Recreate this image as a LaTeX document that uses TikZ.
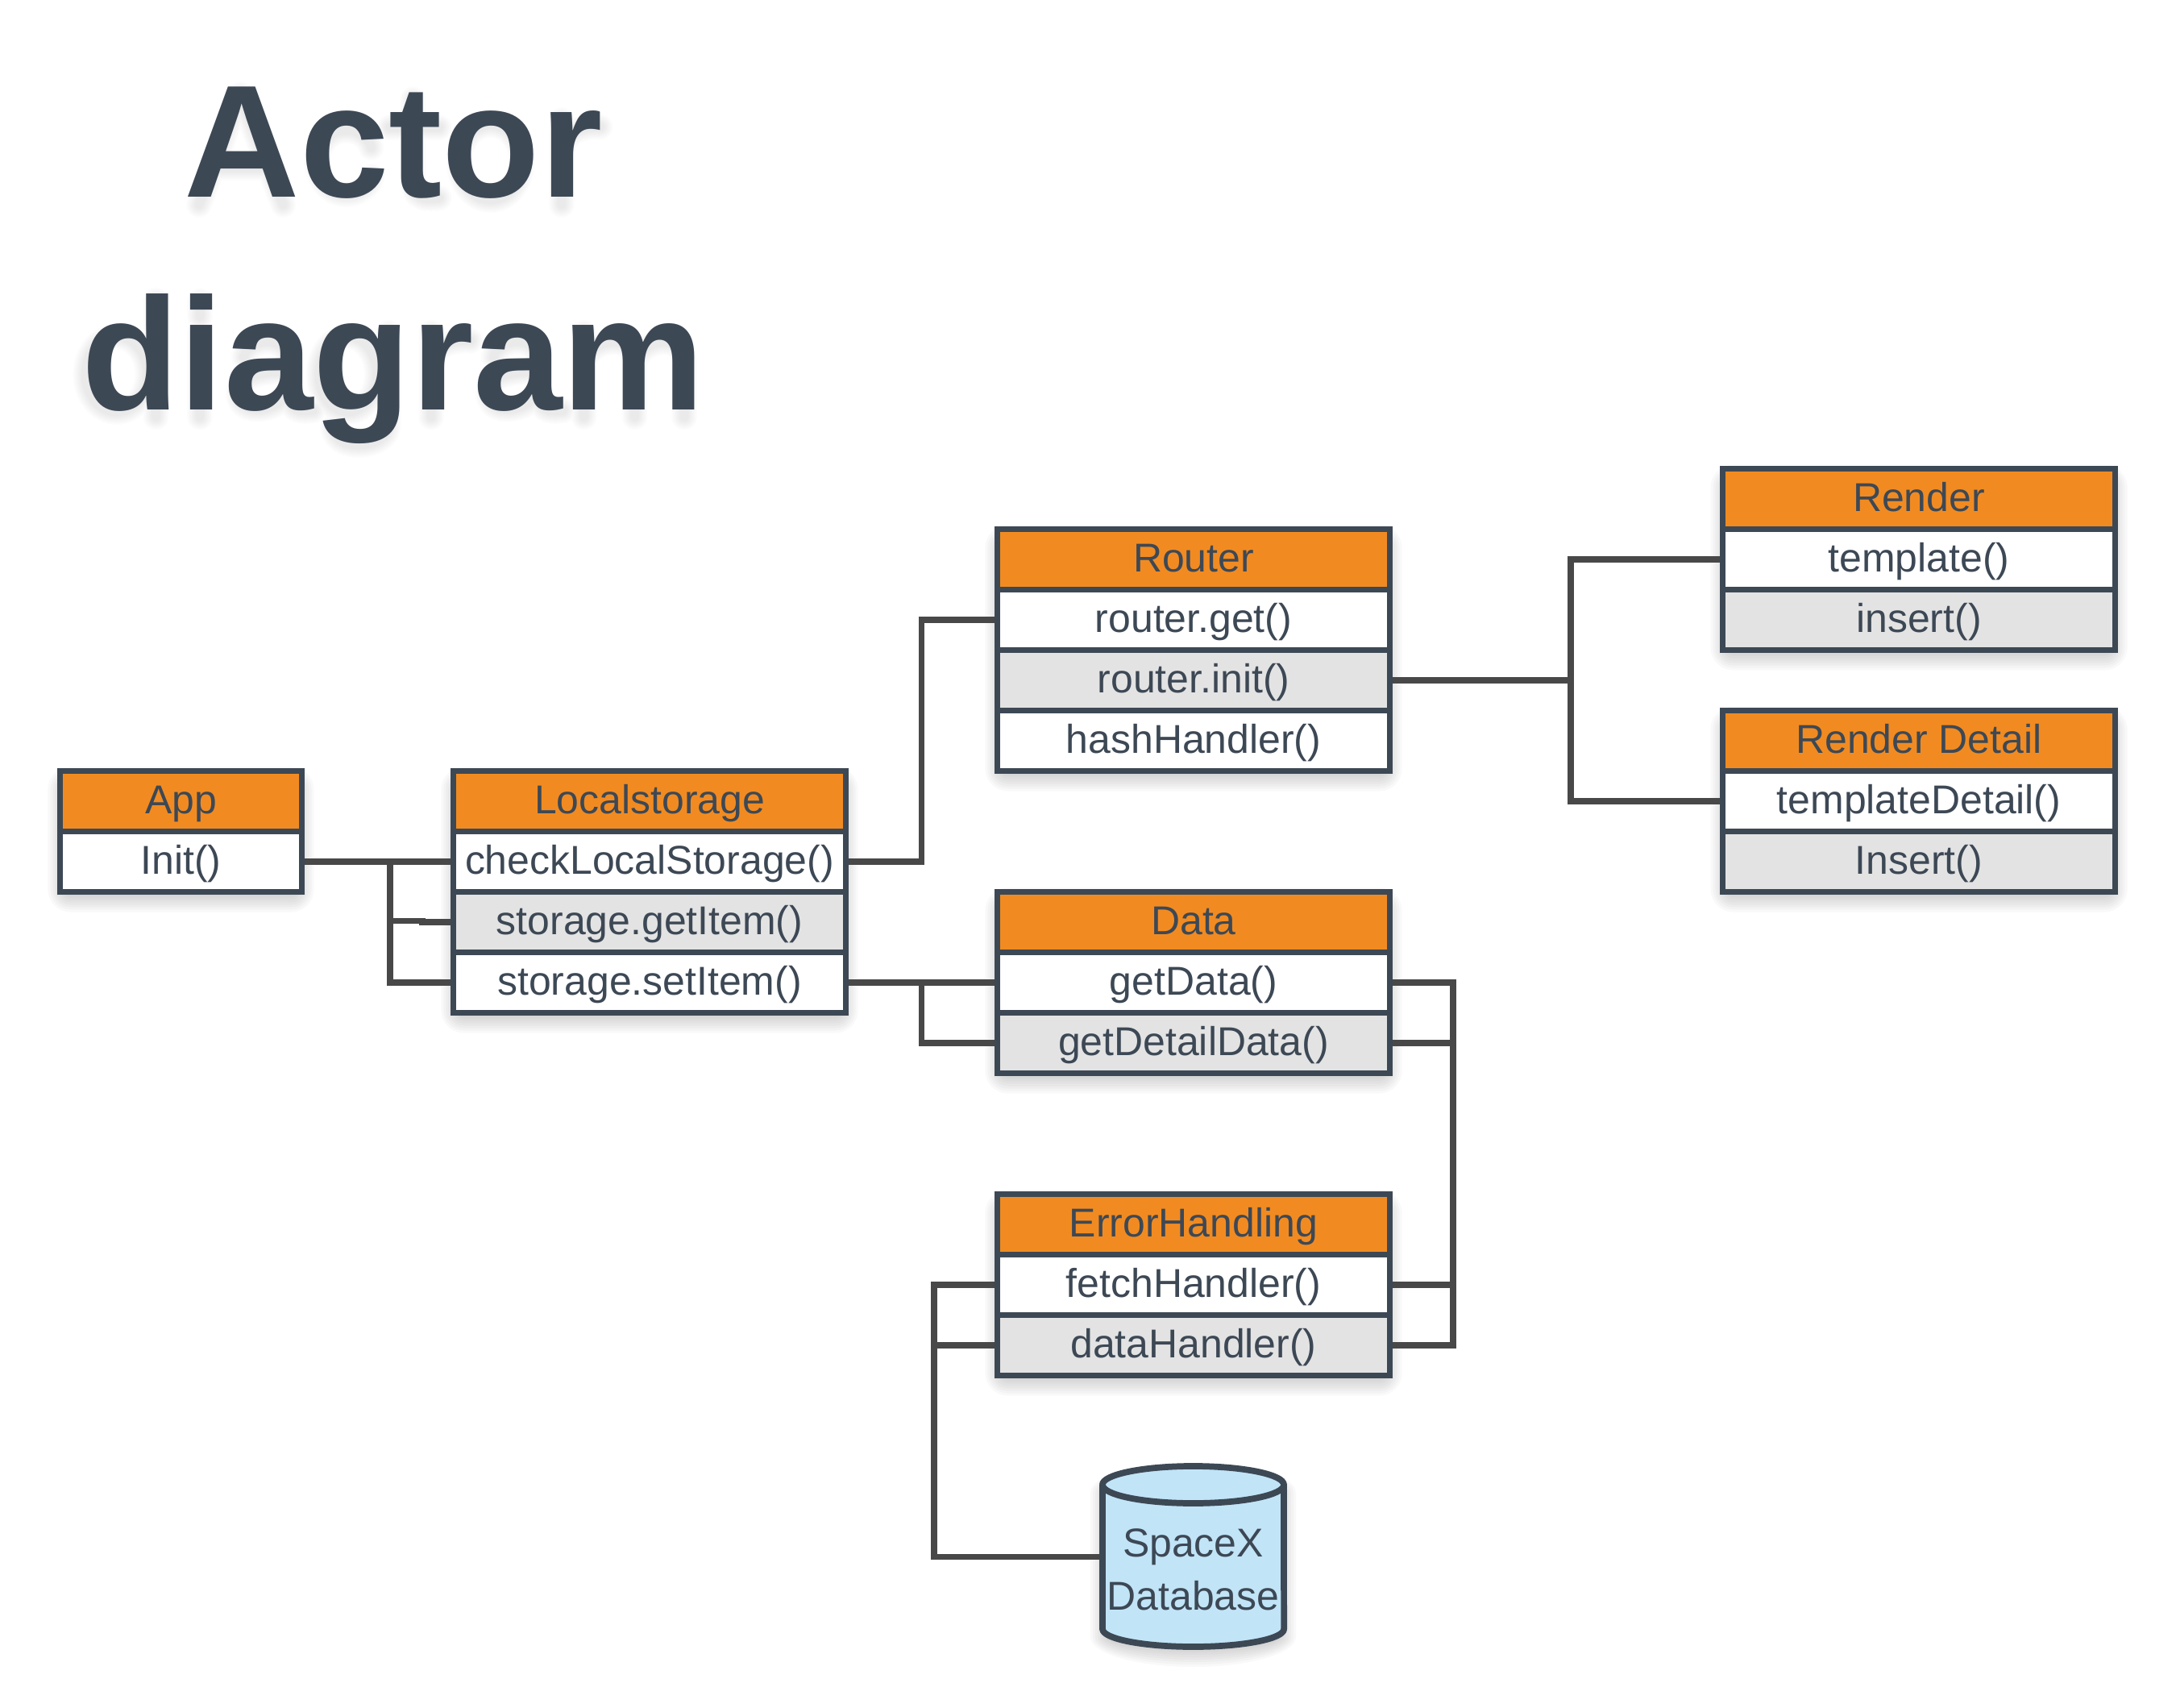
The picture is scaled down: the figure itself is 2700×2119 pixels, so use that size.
\documentclass[tikz,border=0pt]{standalone}
\usepackage{fontspec}
\setmainfont{Liberation Sans}
\definecolor{ink}{HTML}{3D4855}
\definecolor{wirecol}{HTML}{484848}
\definecolor{headfill}{HTML}{F18B21}
\definecolor{altfill}{HTML}{E3E3E3}
\definecolor{dbfill}{HTML}{C1E4F7}
\pgfdeclarelayer{shad}
\pgfdeclarelayer{conn}
\pgfsetlayers{shad,conn,main}
\tikzset{
  cell/.style={draw=ink,line width=2.05pt,outer sep=0pt,inner sep=0pt,minimum height=.75cm,
    text=ink,text height=.36cm,text depth=.06cm,font=\fontsize{14.2pt}{18pt}\selectfont},
  wa/.style={cell,minimum width=3cm},
  wb/.style={cell,minimum width=4.87cm},
  head/.style={fill=headfill},
  plain/.style={fill=white},
  alt/.style={fill=altfill},
  wire/.style={draw=wirecol,line width=2.15pt,line join=miter},
  title/.style={text=ink,align=center,inner sep=0pt,
    font=\fontsize{56.5pt}{75pt}\selectfont\bfseries},
}
% soft drop shadow behind a rectangle given by two corners
\newcommand{\softshadow}[2]{%
  \begin{pgfonlayer}{shad}
  \foreach \r in {-12,-9,...,15}{
    \pgfmathsetmacro{\cr}{\r+13}
    \fill[black,opacity=.022,rounded corners=\cr*0.01cm]
      ([shift={(-\r*0.01cm,\r*0.01cm-.10cm)}]#1) rectangle ([shift={(\r*0.01cm,-\r*0.01cm-.10cm)}]#2);
  }
  \end{pgfonlayer}}
% rough strokes following the heading's letters, used only for its soft shadow
\newcommand{\headingstrokes}{%
  (343,583)--(432,172)--(525,583) (385,445)--(480,445)
  (715,370) .. controls (705,290) and (610,260) .. (597,425) .. controls (610,590) and (705,560) .. (717,478)
  (805,190)--(805,490) .. controls (805,560) and (830,565) .. (862,558) (755,295)--(862,295)
  (973,425) ellipse [x radius=.39cm,y radius=.467cm]
  (1127,583)--(1127,268) (1127,380) .. controls (1135,310) and (1170,290) .. (1210,293)
  (250,940)--(250,1375) (165,1215) ellipse [x radius=.385cm,y radius=.467cm]
  (345,1055)--(345,1375) (345,942)--(345,1000)
  (440,1150) .. controls (450,1080) and (540,1060) .. (540,1180) -- (540,1310) .. controls (545,1355) and (565,1355) .. (590,1350)
  (540,1205) .. controls (470,1205) and (430,1220) .. (428,1290) .. controls (430,1370) and (510,1360) .. (540,1280)
  (665,1215) ellipse [x radius=.36cm,y radius=.467cm]
  (752,1060)--(752,1410) .. controls (750,1490) and (640,1510) .. (632,1415)
  (845,1375)--(845,1060) (845,1170) .. controls (850,1110) and (890,1085) .. (930,1090)
  (980,1150) .. controls (990,1080) and (1080,1060) .. (1080,1180) -- (1080,1310) .. controls (1085,1355) and (1105,1355) .. (1130,1350)
  (1080,1205) .. controls (1010,1205) and (970,1220) .. (968,1290) .. controls (970,1370) and (1050,1360) .. (1080,1280)
  (1175,1375)--(1175,1060) (1175,1170) .. controls (1190,1080) and (1285,1060) .. (1285,1170) -- (1285,1375)
  (1285,1170) .. controls (1300,1080) and (1392,1060) .. (1392,1170) -- (1392,1375)}
\begin{document}
\begin{tikzpicture}[x=.01cm,y=-.01cm]
\useasboundingbox (0,0) rectangle (2700,2119);
\begin{pgfonlayer}{shad}
\begin{scope}[shift={(50,60)},x=.00574cm,y=-.00333cm]
\foreach \w in {3,4,...,9}{
  \draw[black,opacity=.010,line width=\w pt,line cap=round,line join=round] \headingstrokes;
}
\end{scope}
\end{pgfonlayer}
\node[title] (heading) at (488,329) {Actor\\diagram};

% App
\node[wa,head]  (app)     at (224.5,994)  {App};
\node[wa,plain] (appinit) at (224.5,1069) {Init()};
% Localstorage
\node[wb,head]  (ls)      at (806,994)  {Localstorage};
\node[wb,plain] (lscheck) at (806,1069) {checkLocalStorage()};
\node[wb,alt]   (lsget)   at (806,1144) {storage.getItem()};
\node[wb,plain] (lsset)   at (806,1219) {storage.setItem()};
% Router
\node[wb,head]  (router)  at (1481,694) {Router};
\node[wb,plain] (rget)    at (1481,769) {router.get()};
\node[wb,alt]   (rinit)   at (1481,844) {router.init()};
\node[wb,plain] (rhash)   at (1481,919) {hashHandler()};
% Render
\node[wb,head]  (render)  at (2381,619) {Render};
\node[wb,plain] (rtempl)  at (2381,694) {template()};
\node[wb,alt]   (rins)    at (2381,769) {insert()};
% Render Detail
\node[wb,head]  (detail)  at (2381,919)  {Render Detail};
\node[wb,plain] (dtempl)  at (2381,994)  {templateDetail()};
\node[wb,alt]   (dins)    at (2381,1069) {Insert()};
% Data
\node[wb,head]  (data)    at (1481,1144) {Data};
\node[wb,plain] (dget)    at (1481,1219) {getData()};
\node[wb,alt]   (ddetail) at (1481,1294) {getDetailData()};
% ErrorHandling
\node[wb,head]  (err)     at (1481,1519) {ErrorHandling};
\node[wb,plain] (efetch)  at (1481,1594) {fetchHandler()};
\node[wb,alt]   (edata)   at (1481,1669) {dataHandler()};

% Database cylinder
\path[draw=ink,fill=dbfill,line width=2.2pt,line join=round]
  (1368,1842) -- (1368,2021) arc[start angle=180,end angle=360,x radius=1.125cm,y radius=.22cm]
  -- (1593,1842) arc[start angle=0,end angle=180,x radius=1.125cm,y radius=.23cm] -- cycle;
\path[draw=ink,line width=2.2pt]
  (1368,1842) arc[start angle=180,end angle=360,x radius=1.125cm,y radius=.23cm];
\node[inner sep=0pt,outer sep=0pt,minimum width=2.25cm,minimum height=2.24cm,text=ink,align=center,
  text height=1.32cm,text depth=0pt,font=\fontsize{14.2pt}{18.8pt}\selectfont] (db) at (1480.5,1931.5) {SpaceX\\Database};

% shadows
\softshadow{app.north west}{appinit.south east}
\softshadow{ls.north west}{lsset.south east}
\softshadow{router.north west}{rhash.south east}
\softshadow{render.north west}{rins.south east}
\softshadow{detail.north west}{dins.south east}
\softshadow{data.north west}{ddetail.south east}
\softshadow{err.north west}{edata.south east}
\begin{pgfonlayer}{shad}
\foreach \r in {-12,-9,...,15}{
  \fill[black,opacity=.022]
    (1368-\r,1852) -- (1368-\r,2031)
    arc[start angle=180,end angle=360,x radius=(112.5+\r)*.01cm,y radius=(22+\r)*.01cm]
    -- (1593+\r,1852)
    arc[start angle=0,end angle=180,x radius=(112.5+\r)*.01cm,y radius=(23+\r)*.01cm] -- cycle;
}
\end{pgfonlayer}

% connectors
\coordinate (busa) at (484,1069);
\coordinate (jog)  at (524,1142.5);
\coordinate (busb) at (1143.5,1219);
\coordinate (busc) at (1949,844);
\coordinate (busd) at (1803,1219);
\coordinate (buse) at (1159,1594);
\begin{pgfonlayer}{conn}
\draw[wire] (appinit.east) -- (lscheck.west);
\draw[wire] (busa) |- (lsset.west);
\draw[wire] (busa |- jog) -- (jog) -- (jog |- lsget.west) -- (lsget.west);
\draw[wire] (lscheck.east) -- (lscheck.east -| busb) |- (rget.west);
\draw[wire] (lsset.east) -- (dget.west);
\draw[wire] (busb) |- (ddetail.west);
\draw[wire] (rinit.east) -- (busc);
\draw[wire] (rtempl.west) -| (busc) |- (dtempl.west);
\draw[wire] (dget.east) -- (busd) |- (edata.east);
\draw[wire] (ddetail.east) -- (ddetail.east -| busd);
\draw[wire] (efetch.east) -- (efetch.east -| busd);
\draw[wire] (efetch.west) -- (buse) |- (db.west);
\draw[wire] (edata.west) -- (edata.west -| buse);
\end{pgfonlayer}
\end{tikzpicture}
\end{document}
